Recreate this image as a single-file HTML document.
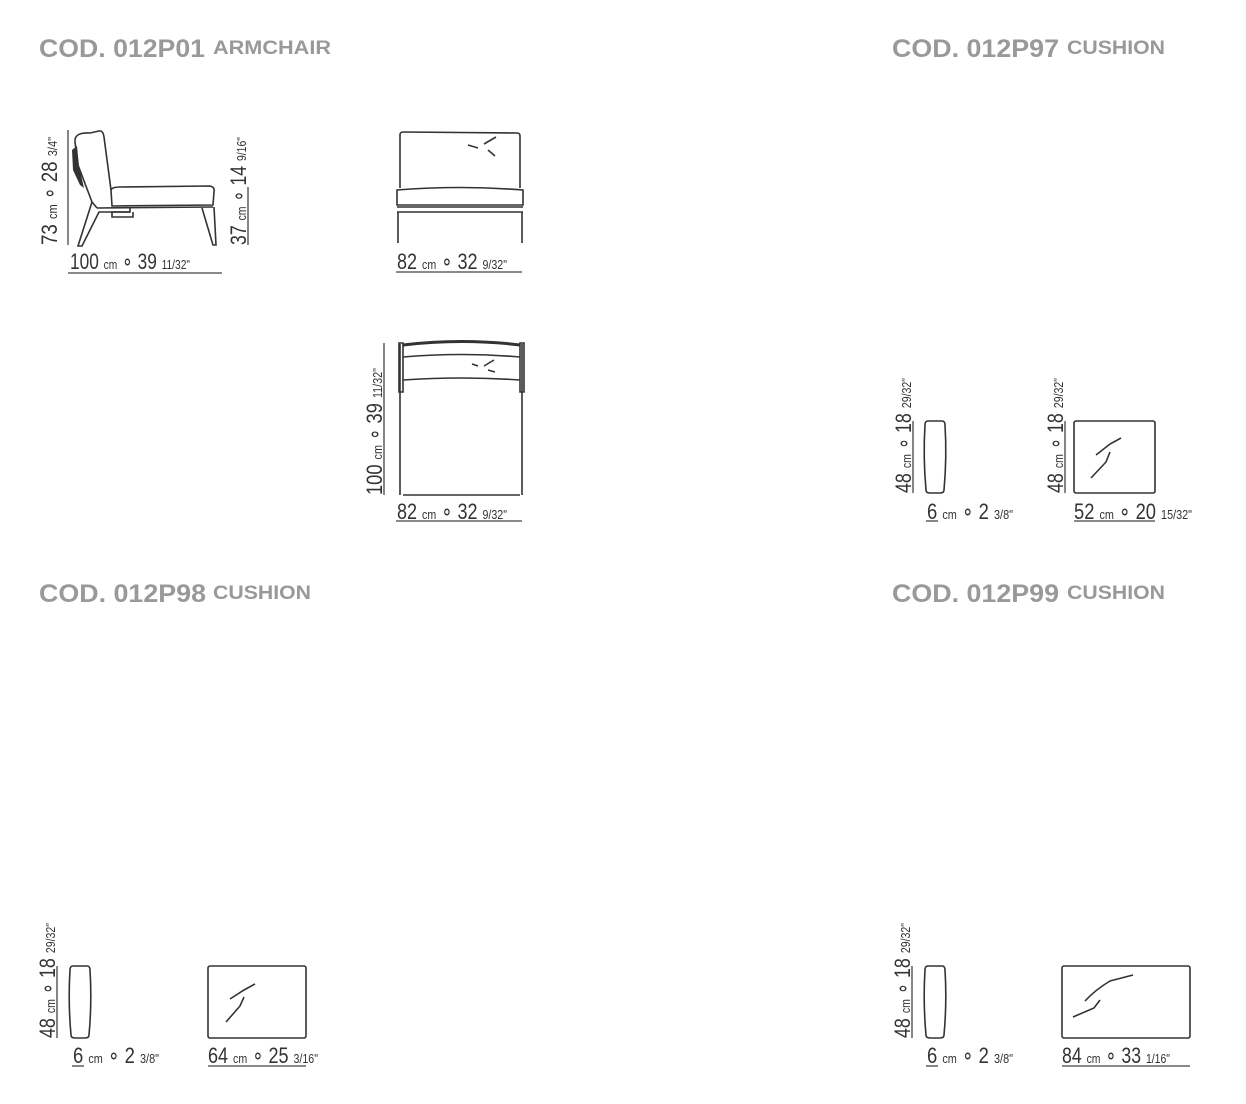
<!DOCTYPE html>
<html><head><meta charset="utf-8"><style>
html,body{margin:0;padding:0;background:#fff;}
svg{display:block;}
.h1{font-family:"Liberation Sans",sans-serif;font-weight:bold;fill:#999;font-size:25px;}
.h2{font-family:"Liberation Sans",sans-serif;font-weight:bold;fill:#999;font-size:19px;}
.d{font-family:"Liberation Sans",sans-serif;fill:#333;font-size:22px;}
.s{font-size:13px;}
.l{stroke:#444;stroke-width:1.3;fill:none;}
.k{stroke:#333;stroke-width:1.6;fill:none;}
</style></head><body>
<svg width="1246" height="1104" viewBox="0 0 1246 1104" xmlns="http://www.w3.org/2000/svg">
<!-- headers -->
<text class="h1" x="39" y="57" textLength="166" lengthAdjust="spacingAndGlyphs">COD. 012P01</text>
<text class="h2" x="213" y="54" textLength="118" lengthAdjust="spacingAndGlyphs">ARMCHAIR</text>
<text class="h1" x="892" y="57" textLength="167" lengthAdjust="spacingAndGlyphs">COD. 012P97</text>
<text class="h2" x="1067" y="54" textLength="98" lengthAdjust="spacingAndGlyphs">CUSHION</text>
<text class="h1" x="39" y="602" textLength="167" lengthAdjust="spacingAndGlyphs">COD. 012P98</text>
<text class="h2" x="213" y="599" textLength="98" lengthAdjust="spacingAndGlyphs">CUSHION</text>
<text class="h1" x="892" y="602" textLength="167" lengthAdjust="spacingAndGlyphs">COD. 012P99</text>
<text class="h2" x="1067" y="599" textLength="98" lengthAdjust="spacingAndGlyphs">CUSHION</text>

<!-- ARMCHAIR side view -->
<g class="k">
<path d="M75,142 Q74,132 90,133 L99,131 Q103,130 104,137 L111,190"/>
<path d="M75,142 L78,165 L92,202 L97,208"/>
<path d="M111,190 Q112,187 120,187 L210,186 Q215,187 214,192 L213,205 L112,206 Z"/>
<path d="M97,208 L213,207"/>
<path d="M92,202 L78,246 L82,246 L99,212 L130,212"/>
<path d="M130,207 L130,212 L112,212 L112,217 L133,217 L133,212"/>
<path d="M202,208 L213,245 L216,245 L214,207"/>
</g>
<path d="M72,150 L73,170 L80,185 L84,188 L79,166 L77,146 Z" fill="#333"/>
<line class="l" x1="68" y1="130" x2="68" y2="245"/>
<line class="l" x1="248" y1="187" x2="248" y2="245"/>
<line class="l" x1="68" y1="273" x2="222" y2="273"/>
<text class="d" x="70" y="269" textLength="120" lengthAdjust="spacingAndGlyphs">100 <tspan class="s">cm</tspan> ∘ 39 <tspan class="s">11/32"</tspan></text>
<text class="d" transform="translate(57,245) rotate(-90)" textLength="108" lengthAdjust="spacingAndGlyphs">73 <tspan class="s">cm</tspan> ∘ 28 <tspan class="s">3/4"</tspan></text>
<text class="d" transform="translate(246,245) rotate(-90)" textLength="108" lengthAdjust="spacingAndGlyphs">37 <tspan class="s">cm</tspan> ∘ 14 <tspan class="s">9/16"</tspan></text>

<!-- ARMCHAIR front -->
<g class="k">
<path d="M400,188 L400,135 Q400,132 403,132 L517,133 Q520,133 520,136 L520,188"/>
<path d="M397,190 Q460,185 523,190 L523,205 L397,205 Z"/>
<path d="M397,207 L523,207 M397,212 L523,212"/>
<path d="M398,212 L398,243 M522,212 L522,243"/>
<path d="M468,145 L478,148 M484,144 L496,137 M488,150 L495,156"/>
</g>
<line class="l" x1="396" y1="272" x2="522" y2="272"/>
<text class="d" x="397" y="269" textLength="110" lengthAdjust="spacingAndGlyphs">82 <tspan class="s">cm</tspan> ∘ 32 <tspan class="s">9/32"</tspan></text>

<!-- ARMCHAIR top -->
<g class="k">
<path d="M400,344 L400,495 M522,344 L522,495"/>
<path d="M399,343 L403,343 L403,392 L399,392 Z M520,343 L524,343 L524,392 L520,392 Z"/>
<path d="M403,345 Q462,338 520,345" stroke-width="3"/>
<path d="M403,357 Q462,352 520,357"/>
<path d="M403,380 Q462,376 520,380"/>
<path d="M403,495 L520,495"/>
<path d="M472,364 L478,366 M484,366 L494,360 M488,370 L495,372"/>
</g>
<line class="l" x1="384" y1="343" x2="384" y2="495"/>
<line class="l" x1="396" y1="521" x2="522" y2="521"/>
<text class="d" x="397" y="519" textLength="110" lengthAdjust="spacingAndGlyphs">82 <tspan class="s">cm</tspan> ∘ 32 <tspan class="s">9/32"</tspan></text>
<text class="d" transform="translate(382,495) rotate(-90)" textLength="127" lengthAdjust="spacingAndGlyphs">100 <tspan class="s">cm</tspan> ∘ 39 <tspan class="s">11/32"</tspan></text>

<!-- 012P97 -->
<path class="k" d="M928,421 L942,421 Q945,421 945,425 Q947,457 944,490 Q944,493 940,493 L930,493 Q926,493 926,490 Q923,457 925,425 Q925,421 928,421 Z"/>
<line class="l" x1="913" y1="421" x2="913" y2="493"/>
<text class="d" transform="translate(911,493) rotate(-90)" textLength="115" lengthAdjust="spacingAndGlyphs">48 <tspan class="s">cm</tspan> ∘ 18 <tspan class="s">29/32"</tspan></text>
<line class="l" x1="926" y1="521" x2="938" y2="521"/>
<text class="d" x="927" y="519" textLength="86" lengthAdjust="spacingAndGlyphs">6 <tspan class="s">cm</tspan> ∘ 2 <tspan class="s">3/8"</tspan></text>
<rect class="k" x="1074" y="421" width="81" height="72" rx="2"/>
<path class="k" d="M1096,455 L1110,444 L1121,438 M1110,452 L1106,462 L1091,478"/>
<line class="l" x1="1065" y1="421" x2="1065" y2="493"/>
<text class="d" transform="translate(1063,493) rotate(-90)" textLength="115" lengthAdjust="spacingAndGlyphs">48 <tspan class="s">cm</tspan> ∘ 18 <tspan class="s">29/32"</tspan></text>
<line class="l" x1="1074" y1="521" x2="1155" y2="521"/>
<text class="d" x="1074" y="519" textLength="118" lengthAdjust="spacingAndGlyphs">52 <tspan class="s">cm</tspan> ∘ 20 <tspan class="s">15/32"</tspan></text>

<!-- 012P98 -->
<path class="k" d="M73,966 L87,966 Q90,966 90,970 Q92,1002 89,1035 Q89,1038 85,1038 L75,1038 Q71,1038 71,1035 Q68,1002 70,970 Q70,966 73,966 Z"/>
<line class="l" x1="57" y1="966" x2="57" y2="1038"/>
<text class="d" transform="translate(55,1038) rotate(-90)" textLength="115" lengthAdjust="spacingAndGlyphs">48 <tspan class="s">cm</tspan> ∘ 18 <tspan class="s">29/32"</tspan></text>
<line class="l" x1="72" y1="1066" x2="84" y2="1066"/>
<text class="d" x="73" y="1063" textLength="86" lengthAdjust="spacingAndGlyphs">6 <tspan class="s">cm</tspan> ∘ 2 <tspan class="s">3/8"</tspan></text>
<rect class="k" x="208" y="966" width="98" height="72" rx="2"/>
<path class="k" d="M230,999 L244,990 L255,984 M244,997 L240,1006 L226,1022"/>
<line class="l" x1="208" y1="1066" x2="306" y2="1066"/>
<text class="d" x="208" y="1063" textLength="110" lengthAdjust="spacingAndGlyphs">64 <tspan class="s">cm</tspan> ∘ 25 <tspan class="s">3/16"</tspan></text>

<!-- 012P99 -->
<path class="k" d="M928,966 L942,966 Q945,966 945,970 Q947,1002 944,1035 Q944,1038 940,1038 L930,1038 Q926,1038 926,1035 Q923,1002 925,970 Q925,966 928,966 Z"/>
<line class="l" x1="912" y1="966" x2="912" y2="1038"/>
<text class="d" transform="translate(910,1038) rotate(-90)" textLength="115" lengthAdjust="spacingAndGlyphs">48 <tspan class="s">cm</tspan> ∘ 18 <tspan class="s">29/32"</tspan></text>
<line class="l" x1="926" y1="1066" x2="938" y2="1066"/>
<text class="d" x="927" y="1063" textLength="86" lengthAdjust="spacingAndGlyphs">6 <tspan class="s">cm</tspan> ∘ 2 <tspan class="s">3/8"</tspan></text>
<rect class="k" x="1062" y="966" width="128" height="72" rx="2"/>
<path class="k" d="M1085,1001 Q1095,990 1110,981 L1133,975 M1100,1000 L1094,1008 L1073,1017"/>
<line class="l" x1="1062" y1="1066" x2="1190" y2="1066"/>
<text class="d" x="1062" y="1063" textLength="108" lengthAdjust="spacingAndGlyphs">84 <tspan class="s">cm</tspan> ∘ 33 <tspan class="s">1/16"</tspan></text>
</svg>
</body></html>
